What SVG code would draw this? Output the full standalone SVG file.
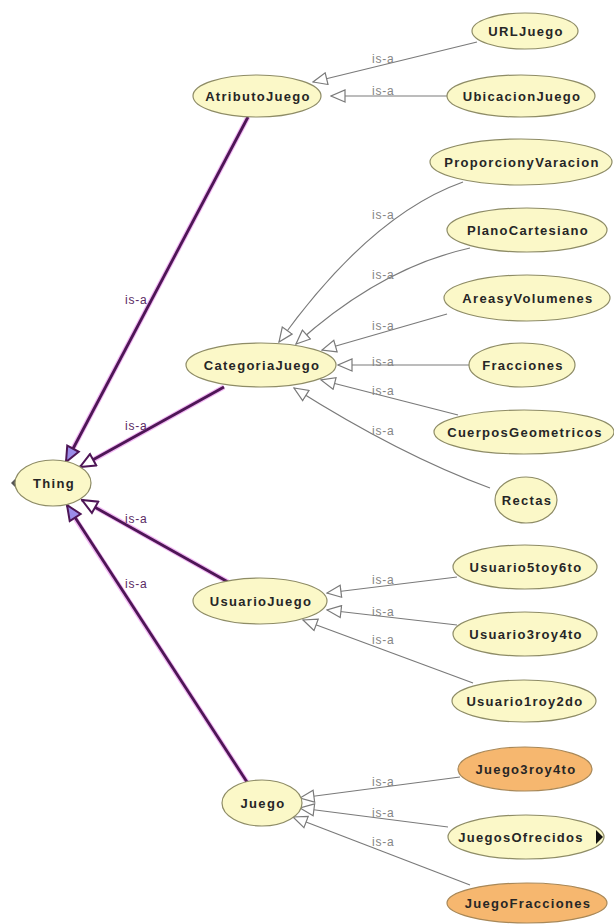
<svg xmlns="http://www.w3.org/2000/svg" width="614" height="924" viewBox="0 0 614 924">
<style>
.n ellipse{fill:#fbf8c8;stroke:#8e8c66;stroke-width:1.2}
.n.o ellipse{fill:#f6b76f;stroke:#a88858}
.n text{font-family:"Liberation Sans",Arial,sans-serif;font-size:13px;font-weight:bold;letter-spacing:1.3px;fill:#262626;text-anchor:middle}
.g{fill:none;stroke:#7a7a7a;stroke-width:1.2;marker-end:url(#ga)}
.ph{fill:none;stroke:#f2b8f4;stroke-width:5}
.p{fill:none;stroke:#4e1656;stroke-width:2.8}
.pw{marker-end:url(#pa)}
.pv{marker-end:url(#pv)}
.l{font-family:"Liberation Sans",Arial,sans-serif;font-size:12px;letter-spacing:0.8px;fill:#858585}
.lp{font-family:"Liberation Sans",Arial,sans-serif;font-size:12px;letter-spacing:0.8px;fill:#5a2a64}
</style>
<defs>
<marker id="ga" markerUnits="userSpaceOnUse" markerWidth="16" markerHeight="14" viewBox="0 0 16 14" refX="15" refY="7" orient="auto">
<path d="M1,1 L15,7 L1,13 Z" fill="#fff" stroke="#7a7a7a" stroke-width="1.2"/>
</marker>
<marker id="pa" markerUnits="userSpaceOnUse" markerWidth="18" markerHeight="16" viewBox="0 0 18 16" refX="16.5" refY="8" orient="auto">
<path d="M1.5,1.5 L16.5,8 L1.5,14.5 Z" fill="#fff" stroke="#4e1656" stroke-width="2"/>
</marker>
<marker id="pv" markerUnits="userSpaceOnUse" markerWidth="18" markerHeight="16" viewBox="0 0 18 16" refX="16.5" refY="8" orient="auto">
<path d="M1.5,1.5 L16.5,8 L1.5,14.5 Z" fill="#9b8ce8" stroke="#4e1656" stroke-width="2"/>
</marker>
</defs>
<rect width="614" height="924" fill="#fff"/>
<g id="connectors">
<line class="ph" x1="248" y1="117" x2="68" y2="458"/>
<line class="p pv" x1="248" y1="117" x2="66" y2="462"/>
<line class="ph" x1="224" y1="387" x2="84" y2="465"/>
<line class="p pw" x1="224" y1="387" x2="80" y2="467"/>
<line class="ph" x1="228" y1="582" x2="86" y2="502"/>
<line class="p pw" x1="228" y1="582" x2="82" y2="500"/>
<line class="ph" x1="247" y1="782" x2="69" y2="509"/>
<line class="p pv" x1="247" y1="782" x2="67" y2="505"/>
<text class="lp" x="125" y="304">is-a</text>
<text class="lp" x="125" y="430">is-a</text>
<text class="lp" x="125" y="523">is-a</text>
<text class="lp" x="125" y="588">is-a</text>
<path class="g" d="M477,42 L313,82"/>
<path class="g" d="M447,96 L331,96"/>
<path class="g" d="M463,182 Q370,215 279,342"/>
<path class="g" d="M470,248 Q380,268 296,344"/>
<path class="g" d="M447,314 L322,350"/>
<path class="g" d="M470,365 L338,365"/>
<path class="g" d="M458,415 L321,380"/>
<path class="g" d="M490,488 Q400,455 294,388"/>
<path class="g" d="M457,577 L327,593"/>
<path class="g" d="M457,625 L327,610"/>
<path class="g" d="M473,683 L303,620"/>
<path class="g" d="M460,777 L300,798"/>
<path class="g" d="M448,827 L300,808"/>
<path class="g" d="M470,885 L293,817"/>
<text class="l" x="372" y="63">is-a</text>
<text class="l" x="372" y="95">is-a</text>
<text class="l" x="372" y="219">is-a</text>
<text class="l" x="372" y="279">is-a</text>
<text class="l" x="372" y="330">is-a</text>
<text class="l" x="372" y="366">is-a</text>
<text class="l" x="372" y="395">is-a</text>
<text class="l" x="372" y="435">is-a</text>
<text class="l" x="372" y="584">is-a</text>
<text class="l" x="372" y="616">is-a</text>
<text class="l" x="372" y="644">is-a</text>
<text class="l" x="372" y="786">is-a</text>
<text class="l" x="372" y="817">is-a</text>
<text class="l" x="372" y="846">is-a</text>
</g>
<g id="Thing" class="n"><polygon points="16,478 11,483 16,488" fill="#555"/><ellipse cx="53" cy="483" rx="38" ry="23"/><text x="54" y="488">Thing</text></g>
<g id="AtributoJuego" class="n"><ellipse cx="257" cy="96" rx="64" ry="21"/><text x="258" y="101">AtributoJuego</text></g>
<g id="URLJuego" class="n"><ellipse cx="525" cy="31" rx="53" ry="18"/><text x="526" y="36">URLJuego</text></g>
<g id="UbicacionJuego" class="n"><ellipse cx="521" cy="96" rx="74" ry="21"/><text x="522" y="101">UbicacionJuego</text></g>
<g id="CategoriaJuego" class="n"><ellipse cx="261" cy="365" rx="75" ry="22"/><text x="262" y="370">CategoriaJuego</text></g>
<g id="ProporcionyVaracion" class="n"><ellipse cx="521" cy="162" rx="91" ry="23"/><text x="522" y="167">ProporcionyVaracion</text></g>
<g id="PlanoCartesiano" class="n"><ellipse cx="527" cy="230" rx="80" ry="22"/><text x="528" y="235">PlanoCartesiano</text></g>
<g id="AreasyVolumenes" class="n"><ellipse cx="527" cy="298" rx="83" ry="23"/><text x="528" y="303">AreasyVolumenes</text></g>
<g id="Fracciones" class="n"><ellipse cx="522" cy="365" rx="53" ry="22"/><text x="523" y="370">Fracciones</text></g>
<g id="CuerposGeometricos" class="n"><ellipse cx="524" cy="432" rx="90" ry="22"/><text x="525" y="437">CuerposGeometricos</text></g>
<g id="Rectas" class="n"><ellipse cx="526" cy="500" rx="31" ry="23"/><text x="527" y="505">Rectas</text></g>
<g id="UsuarioJuego" class="n"><ellipse cx="260" cy="601" rx="67" ry="23"/><text x="261" y="606">UsuarioJuego</text></g>
<g id="Usuario5toy6to" class="n"><ellipse cx="525" cy="567" rx="72" ry="22"/><text x="526" y="572">Usuario5toy6to</text></g>
<g id="Usuario3roy4to" class="n"><ellipse cx="525" cy="634" rx="72" ry="22"/><text x="526" y="639">Usuario3roy4to</text></g>
<g id="Usuario1roy2do" class="n"><ellipse cx="524" cy="701" rx="72" ry="21"/><text x="525" y="706">Usuario1roy2do</text></g>
<g id="Juego" class="n"><ellipse cx="262" cy="803" rx="40" ry="23"/><text x="263" y="808">Juego</text></g>
<g id="Juego3roy4to" class="n o"><ellipse cx="525" cy="769" rx="67" ry="22"/><text x="526" y="774">Juego3roy4to</text></g>
<g id="JuegosOfrecidos" class="n"><ellipse cx="526" cy="837" rx="78" ry="22"/><text x="521" y="842">JuegosOfrecidos</text><polygon points="596,830 603,837 596,844" fill="#111"/></g>
<g id="JuegoFracciones" class="n o"><ellipse cx="527" cy="903" rx="80" ry="20"/><text x="528" y="908">JuegoFracciones</text></g>
</svg>
